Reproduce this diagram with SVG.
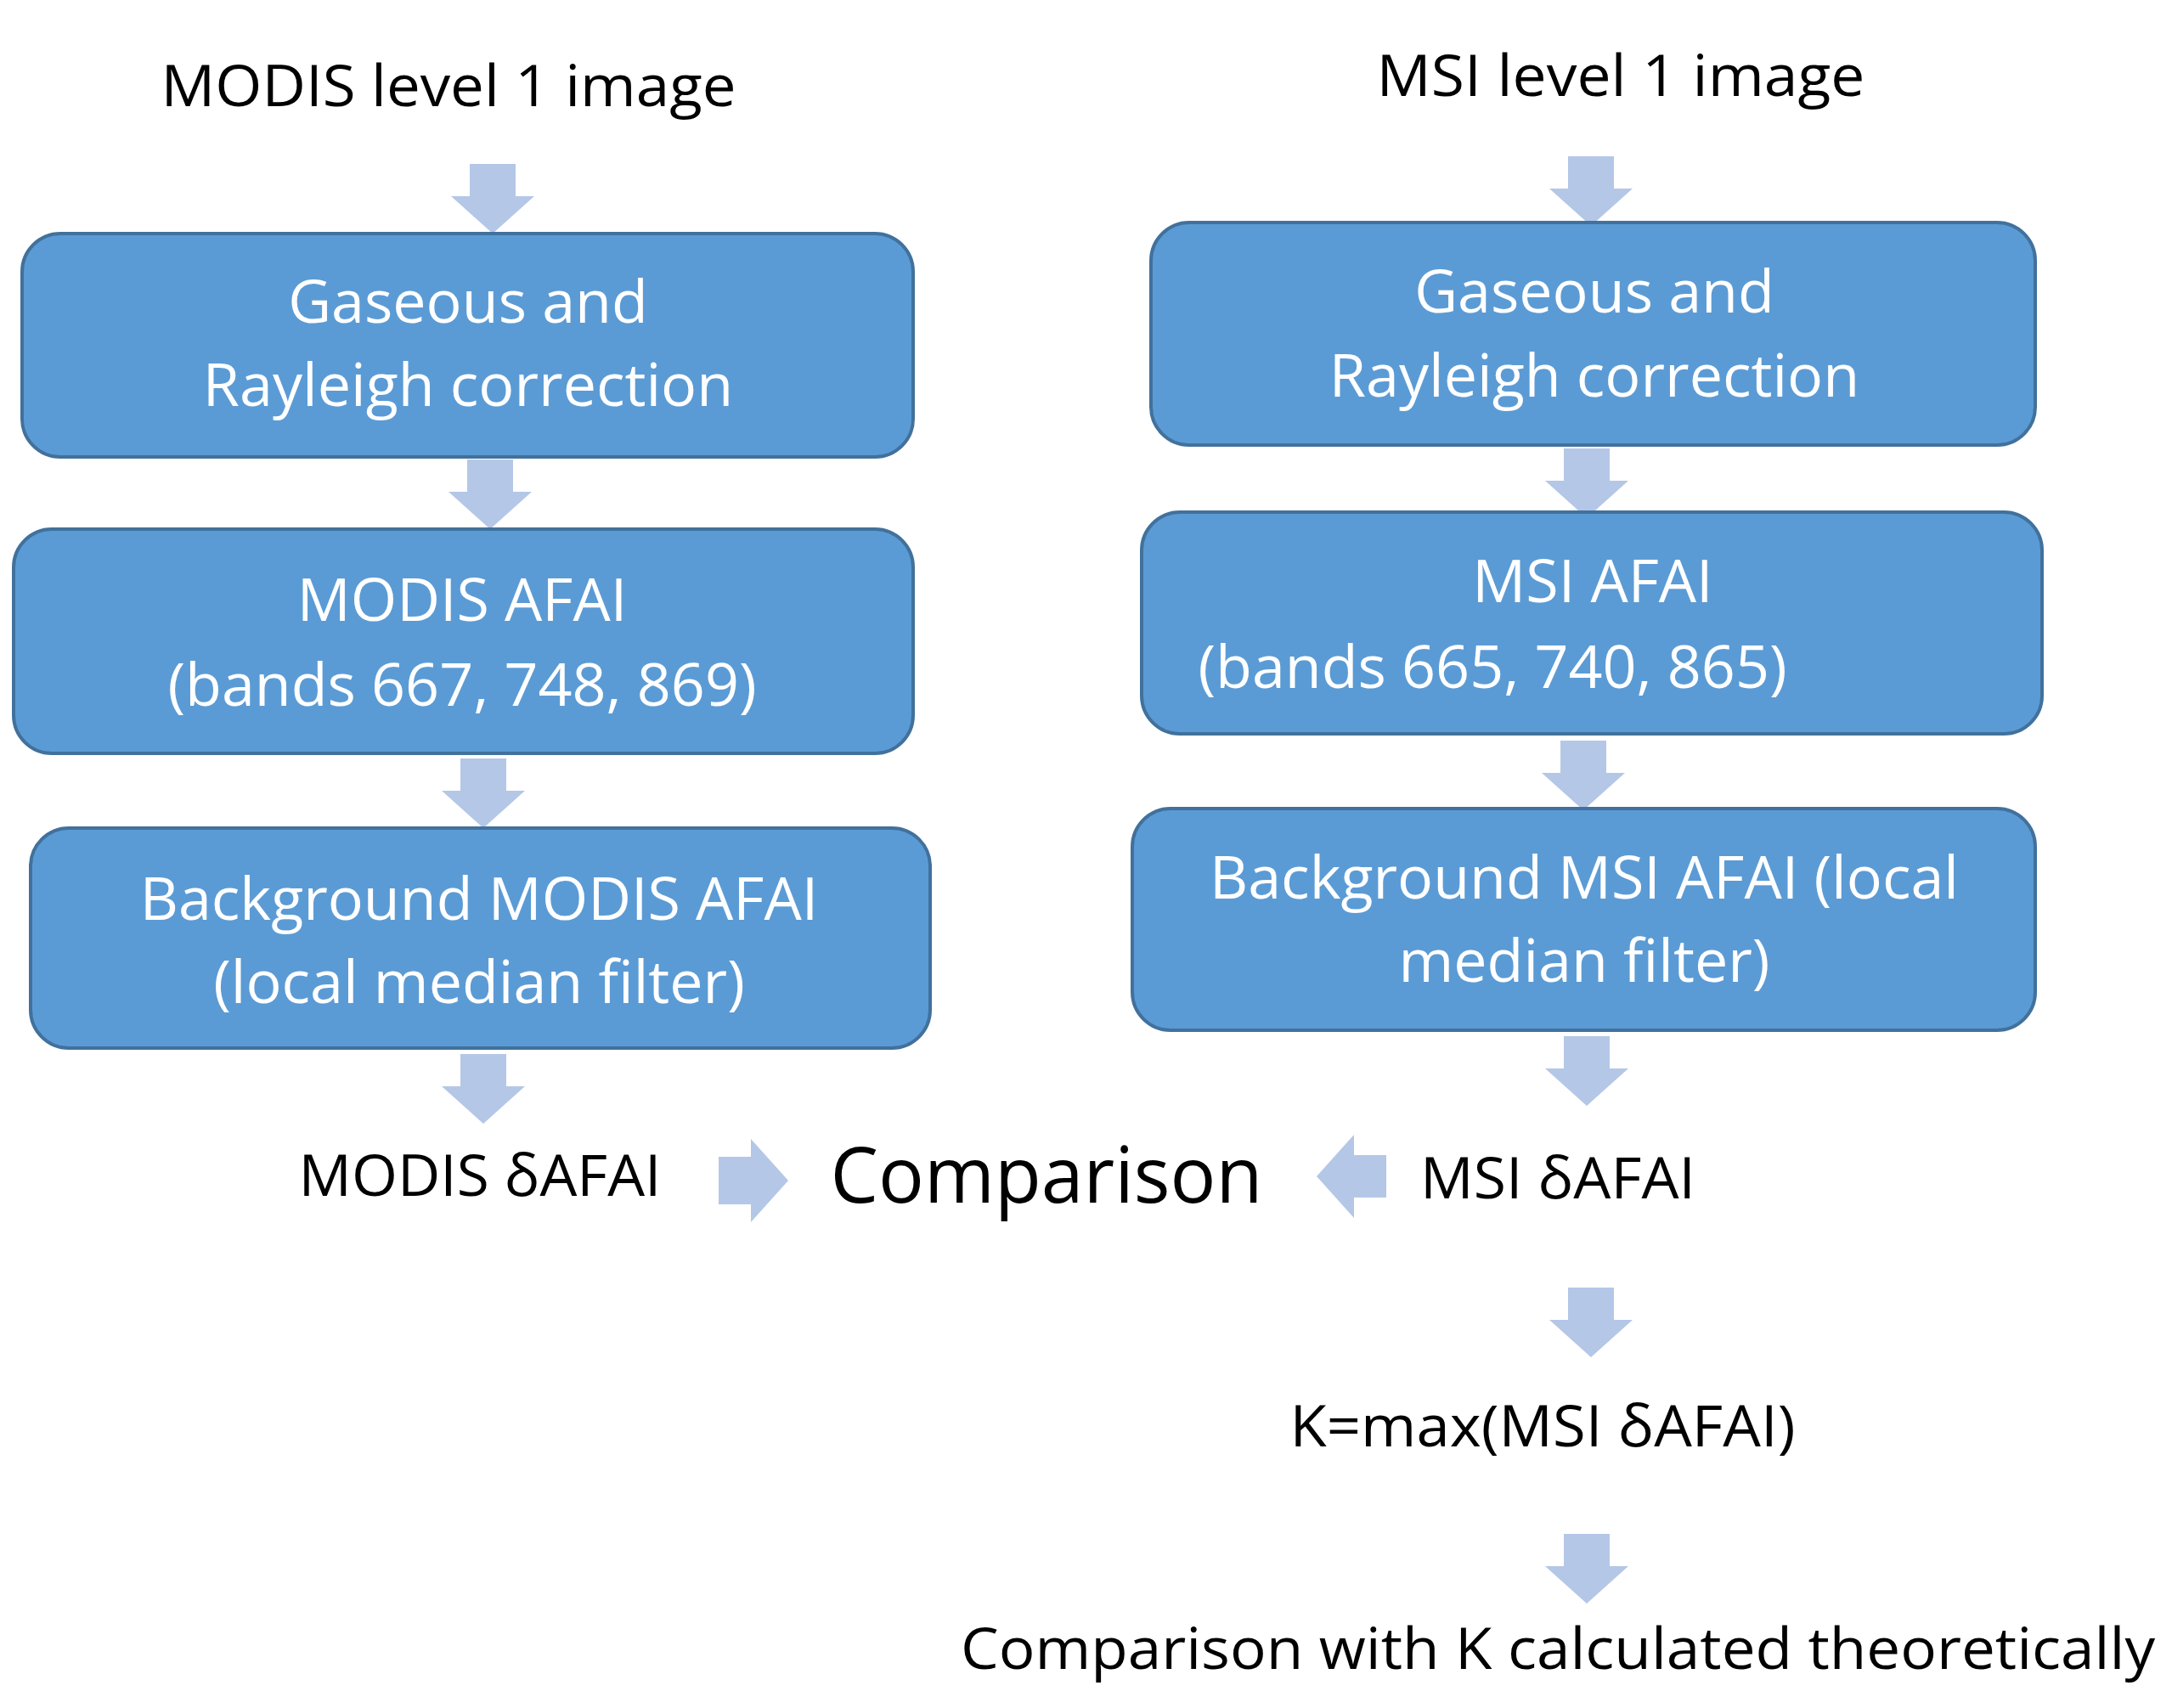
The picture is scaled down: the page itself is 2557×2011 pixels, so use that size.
<svg xmlns="http://www.w3.org/2000/svg" xmlns:xlink="http://www.w3.org/1999/xlink" width="2557" height="2011" viewBox="0 0 2557 2011">
<style>
.box{fill:#5b9bd5;stroke:#41719c;stroke-width:4}
.bt{fill:#fff;font-family:"Open Sans","Noto Sans",sans-serif;font-size:70px;text-anchor:middle}
.t{fill:#000;font-family:"Open Sans","Noto Sans",sans-serif;font-size:68px;text-anchor:middle}
.arr{fill:#b4c7e7}
</style>
<defs>
<path id="ad" d="M-27,0 H27 V38 H49 L0,82 L-49,38 H-27 Z"/>
</defs>
<rect width="2557" height="2011" fill="#fff"/>
<g id="connectors" class="arr">
<use xlink:href="#ad" x="580" y="193"/>
<use xlink:href="#ad" x="577" y="541"/>
<use xlink:href="#ad" x="569" y="893"/>
<use xlink:href="#ad" x="569" y="1241"/>
<use xlink:href="#ad" x="1873" y="184"/>
<use xlink:href="#ad" x="1868" y="528"/>
<use xlink:href="#ad" x="1864" y="872"/>
<use xlink:href="#ad" x="1868" y="1220"/>
<use xlink:href="#ad" x="1873" y="1516"/>
<use xlink:href="#ad" x="1868" y="1806"/>
<path d="M846,1362 H884 V1341 L928,1390 L884,1439 V1418 H846 Z"/>
<path d="M1632,1360 H1594 V1336 L1550,1385 L1594,1434 V1410 H1632 Z"/>
</g>
<g id="modis-title"><text class="t" x="528" y="125" textLength="677" lengthAdjust="spacingAndGlyphs">MODIS level 1 image</text></g>
<g id="msi-title"><text class="t" x="1908" y="113" textLength="575" lengthAdjust="spacingAndGlyphs">MSI level 1 image</text></g>
<g id="modis-gas">
<rect class="box" x="26" y="275" width="1049" height="263" rx="45"/>
<text class="bt" x="551" y="380">Gaseous and</text>
<text class="bt" x="551" y="478">Rayleigh correction</text>
</g>
<g id="modis-afai">
<rect class="box" x="16" y="623" width="1059" height="264" rx="45"/>
<text class="bt" x="544" y="731">MODIS AFAI</text>
<text class="bt" x="544" y="831">(bands 667, 748, 869)</text>
</g>
<g id="modis-bg">
<rect class="box" x="36" y="975" width="1059" height="259" rx="45"/>
<text class="bt" x="564" y="1083">Background MODIS AFAI</text>
<text class="bt" x="564" y="1181">(local median filter)</text>
</g>
<g id="msi-gas">
<rect class="box" x="1355" y="262" width="1041" height="262" rx="45"/>
<text class="bt" x="1877" y="368">Gaseous and</text>
<text class="bt" x="1877" y="467">Rayleigh correction</text>
</g>
<g id="msi-afai">
<rect class="box" x="1344" y="603" width="1060" height="261" rx="45"/>
<text class="bt" x="1875" y="709">MSI AFAI</text>
<text class="bt" x="1757" y="810">(bands 665, 740, 865)</text>
</g>
<g id="msi-bg">
<rect class="box" x="1333" y="952" width="1063" height="261" rx="45"/>
<text class="bt" x="1865" y="1058">Background MSI AFAI (local</text>
<text class="bt" x="1865" y="1156">median filter)</text>
</g>
<g id="modis-dafai"><text class="t" x="565" y="1408" textLength="427" lengthAdjust="spacingAndGlyphs">MODIS δAFAI</text></g>
<g id="comparison"><text class="t" x="1232" y="1416" style="font-size:92px" textLength="509" lengthAdjust="spacingAndGlyphs">Comparison</text></g>
<g id="msi-dafai"><text class="t" x="1834" y="1411" textLength="324" lengthAdjust="spacingAndGlyphs">MSI δAFAI</text></g>
<g id="kmax"><text class="t" x="1816" y="1703" textLength="595" lengthAdjust="spacingAndGlyphs">K=max(MSI δAFAI)</text></g>
<g id="final"><text class="t" x="1834" y="1965" textLength="1406" lengthAdjust="spacingAndGlyphs">Comparison with K calculated theoretically</text></g>
</svg>
